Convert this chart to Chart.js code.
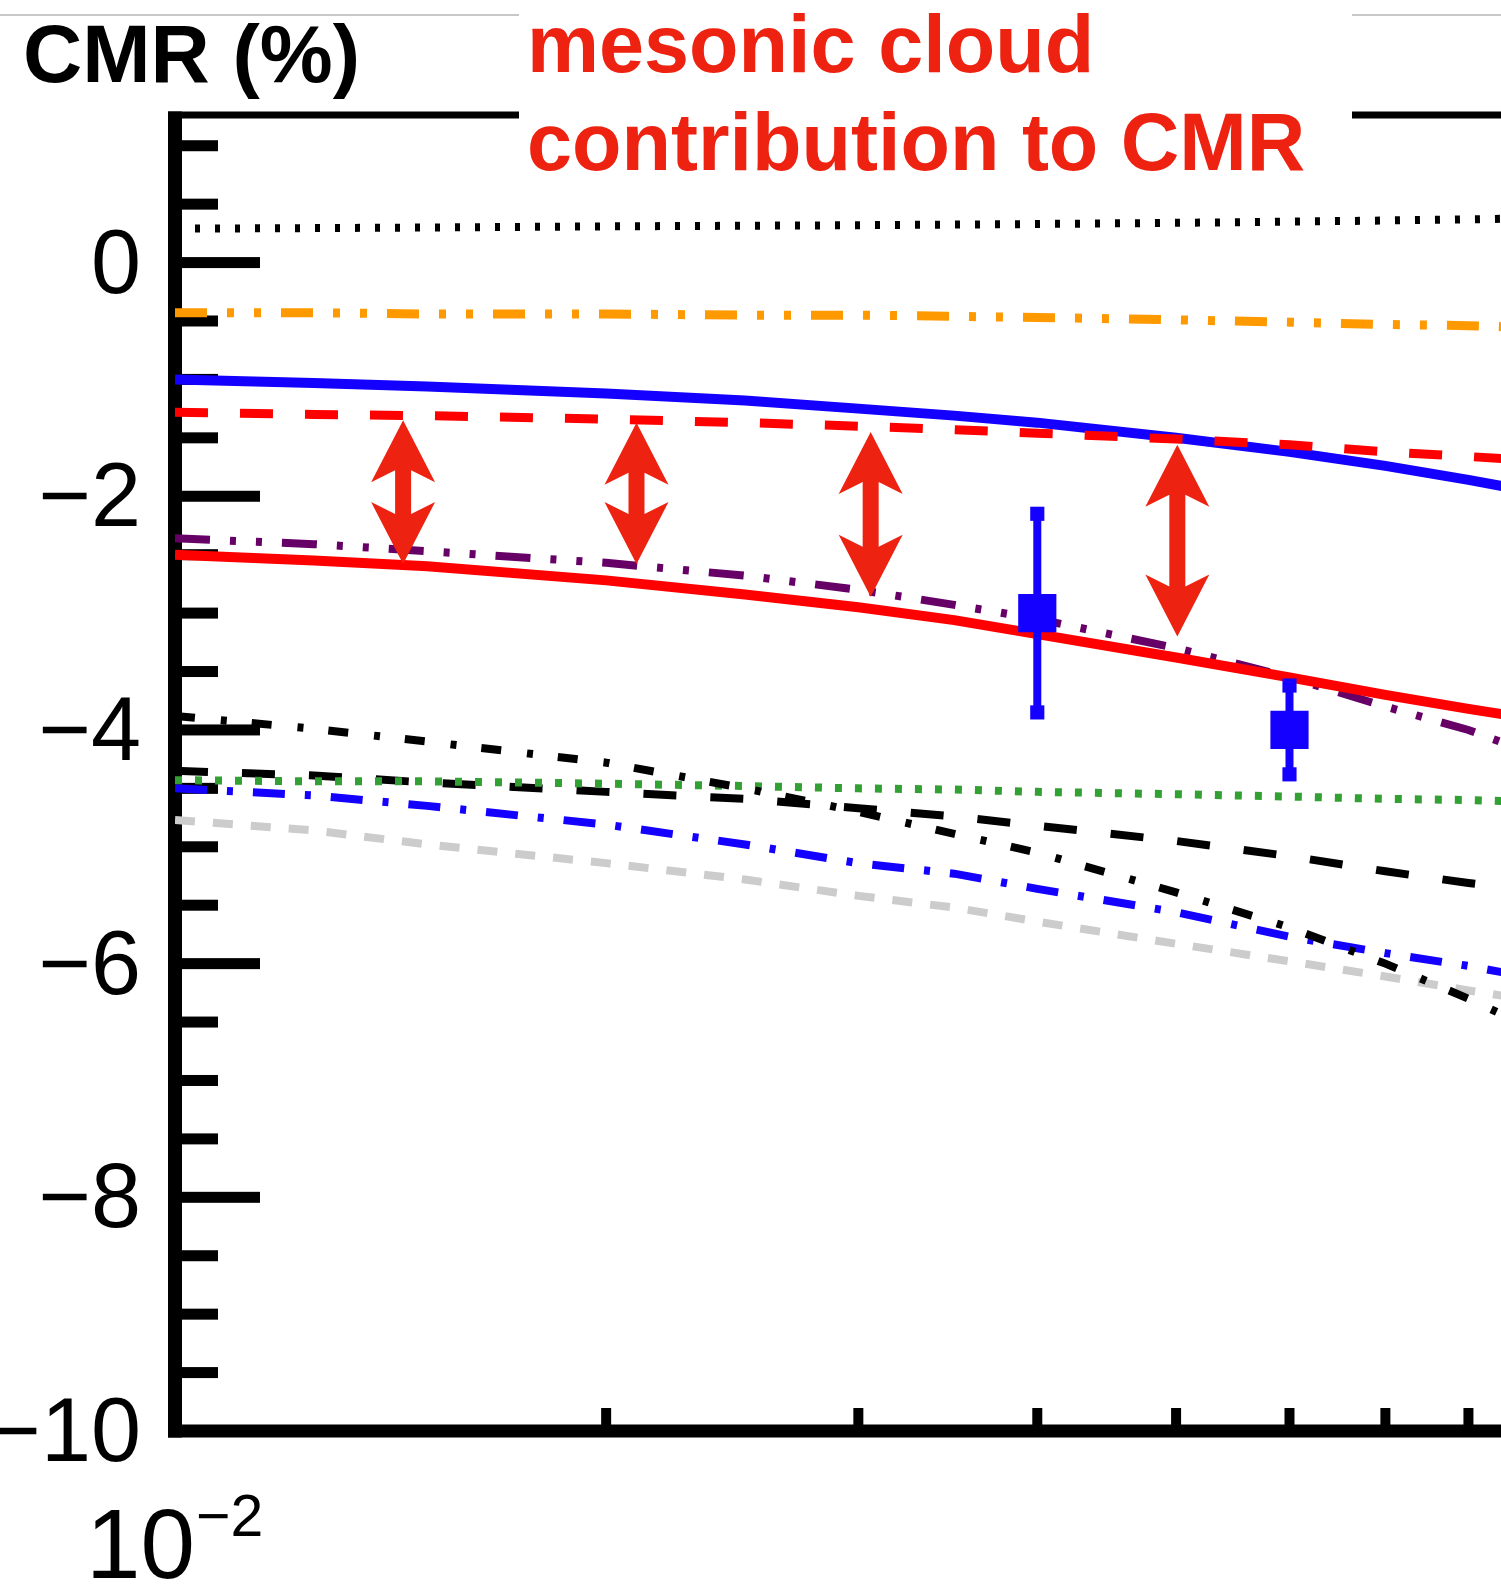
<!DOCTYPE html>
<html>
<head>
<meta charset="utf-8">
<script src="https://cdn.jsdelivr.net/npm/chart.js@4.4.0/dist/chart.umd.min.js"></script>
<style>
  html, body { margin: 0; padding: 0; background: #fff; overflow: hidden; }
  #wrap { width: 1501px; height: 1585px; }
</style>
</head>
<body>
<div id="wrap"><canvas id="c" width="1501" height="1585"></canvas></div>
<script>
// Q^2 sample points (log axis) and CMR (%) curves
const xs = [0.01, 0.0125, 0.015, 0.02, 0.025, 0.03, 0.035, 0.04, 0.05, 0.06, 0.07, 0.08, 0.085];

const blackDotted  = [0.29, 0.295, 0.30, 0.31, 0.315, 0.32, 0.325, 0.33, 0.34, 0.35, 0.36, 0.37, 0.375];
const orangeDDD    = [-0.43, -0.43, -0.44, -0.44, -0.45, -0.45, -0.46, -0.47, -0.49, -0.51, -0.53, -0.54, -0.55];
const blueSolid    = [-1.00, -1.03, -1.06, -1.12, -1.18, -1.25, -1.31, -1.37, -1.50, -1.62, -1.74, -1.86, -1.92];
const redDashed    = [-1.28, -1.30, -1.31, -1.34, -1.37, -1.40, -1.43, -1.46, -1.51, -1.56, -1.62, -1.66, -1.68];
const purpleDDD    = [-2.36, -2.41, -2.47, -2.57, -2.68, -2.80, -2.93, -3.05, -3.30, -3.55, -3.80, -4.00, -4.12];
const redSolid     = [-2.50, -2.55, -2.60, -2.72, -2.84, -2.95, -3.06, -3.18, -3.38, -3.55, -3.70, -3.82, -3.87];
const blackDashDot = [-3.88, -3.99, -4.10, -4.28, -4.50, -4.70, -4.89, -5.05, -5.39, -5.69, -6.00, -6.30, -6.45];
const greenDotted  = [-4.43, -4.44, -4.44, -4.46, -4.48, -4.50, -4.51, -4.53, -4.55, -4.57, -4.59, -4.60, -4.61];
const blackDashed  = [-4.35, -4.39, -4.45, -4.53, -4.59, -4.67, -4.74, -4.82, -4.95, -5.08, -5.21, -5.31, -5.35];
const blueDashDot  = [-4.50, -4.56, -4.65, -4.81, -4.98, -5.14, -5.23, -5.36, -5.56, -5.77, -5.91, -6.02, -6.08];
const grayDashed   = [-4.77, -4.86, -4.98, -5.14, -5.28, -5.42, -5.52, -5.64, -5.83, -5.98, -6.11, -6.23, -6.28];

// data points with error bars
const dataX   = [0.04, 0.06];
const dataY   = [-3.0, -4.0];
const dataErr = [0.85, 0.38];

// red double arrows (mesonic cloud contribution)
const arrowX      = [0.01443, 0.0210, 0.0306, 0.0501];
const arrowTop    = [-1.35, -1.37, -1.45, -1.56];
const arrowBottom = [-2.58, -2.58, -2.86, -3.20];

// axes
const xMin = 0.01, xMax = 0.0843;
const yMin = -10, yMax = 1.263;
const yLabelTicks = [0, -2, -4, -6, -8, -10];
const xMinorTicks = [0.02, 0.03, 0.04, 0.05, 0.06, 0.07, 0.08];

const RED_TXT = '#ee2211';
const BLUE = '#1400ff';
const FONT = '"Liberation Sans", Arial, Helvetica, sans-serif';

const pts = arr => xs.map((x, i) => ({ x, y: arr[i] }));

function curve(arr, color, width, dash, order) {
  return {
    data: pts(arr), showLine: true, borderColor: color, borderWidth: width,
    borderDash: dash, borderCapStyle: 'butt', pointRadius: 0, fill: false,
    tension: 0, order
  };
}

const datasets = [
  curve(grayDashed,   '#cccccc', 8, [20, 18], 12),
  curve(blueDashDot,  BLUE,      8, [32, 20, 6, 20], 11),
  curve(blackDashed,  '#000000', 8, [33, 34], 10),
  curve(greenDotted,  '#33a033', 8, [7, 13], 9),
  curve(blackDashDot, '#000000', 8, [20, 26, 6, 25], 8),
  curve(purpleDDD,    '#660066', 8, [35, 20, 6, 20, 6, 20], 7),
  curve(redSolid,     '#ff0000', 10, [], 6),
  curve(blueSolid,    BLUE,      10, [], 5),
  curve(redDashed,    '#ff0000', 9, [33, 32], 4),
  curve(orangeDDD,    '#ff9900', 9, [32, 20, 7, 20, 7, 20], 3),
  curve(blackDotted,  '#000000', 8, [5, 15], 2)
];

// error bars (one short line per point, square caps)
dataX.forEach((x, i) => {
  datasets.push({
    data: [{ x, y: dataY[i] + dataErr[i] }, { x, y: dataY[i] - dataErr[i] }],
    showLine: true, borderColor: BLUE, borderWidth: 8,
    pointStyle: 'rect', pointRadius: 10, pointBackgroundColor: BLUE,
    pointBorderWidth: 0, order: 1
  });
});
datasets.push({
  data: dataX.map((x, i) => ({ x, y: dataY[i] })),
  showLine: false, pointStyle: 'rect', pointRadius: 27,
  pointBackgroundColor: BLUE, pointBorderWidth: 0, order: 0
});

const frame = {
  id: 'frame',
  beforeDatasetsDraw(chart) {
    const { ctx, chartArea: a, scales: { x, y } } = chart;
    ctx.save();
    // thin grey rule at the very top, broken by the annotation box
    ctx.fillStyle = '#c8c8c8';
    ctx.fillRect(0, 14, 519, 2);
    ctx.fillRect(1352, 14, chart.width - 1352, 2);

    ctx.fillStyle = '#000';
    // top border
    ctx.fillRect(a.left - 7, a.top - 3.5, 519 - a.left + 7, 7);
    ctx.fillRect(1352, a.top - 3.5, chart.width - 1352, 7);
    // left axis
    ctx.fillRect(a.left - 7, a.top - 3.5, 14, a.bottom - a.top + 10);
    // bottom axis
    ctx.fillRect(a.left - 7, a.bottom - 6.5, a.right - a.left + 7, 13);

    // y ticks: long at every 2, short at every 0.5
    for (let v = yMin; v <= yMax; v += 0.5) {
      const py = y.getPixelForValue(v);
      const major = Math.abs(v % 2) < 1e-9;
      ctx.fillRect(a.left - 7, py - 5.5, major ? 92 : 50, 11);
    }
    // x ticks
    xMinorTicks.forEach(v => {
      const px = x.getPixelForValue(v);
      ctx.fillRect(px - 5, a.bottom - 23, 10, 20);
    });

    // y tick labels
    ctx.font = '90px ' + FONT;
    ctx.textAlign = 'right';
    ctx.textBaseline = 'alphabetic';
    yLabelTicks.forEach(v => {
      const py = y.getPixelForValue(v);
      const t = v === 0 ? '0' : '\u2212' + Math.abs(v);
      ctx.fillText(t, 141, py + 30);
    });

    // x label 10^-2 under the first decade
    const px0 = x.getPixelForValue(xMin);
    ctx.textAlign = 'left';
    ctx.font = '98px ' + FONT;
    ctx.fillText('10', px0 - 89, 1578);
    const w10 = ctx.measureText('10').width;
    ctx.font = '59px ' + FONT;
    ctx.fillText('\u22122', px0 - 89 + w10 + 1, 1536);
    ctx.restore();
  },
  afterDatasetsDraw(chart) {
    const { ctx, scales: { x, y } } = chart;
    ctx.save();
    ctx.fillStyle = RED_TXT;
    const hl = 62, hw = 32, nl = 50, sw = 8;
    arrowX.forEach((xv, i) => {
      const px = x.getPixelForValue(xv);
      const y1 = y.getPixelForValue(arrowTop[i]);
      const y2 = y.getPixelForValue(arrowBottom[i]);
      ctx.beginPath();
      ctx.moveTo(px, y1);
      ctx.lineTo(px + hw, y1 + hl);
      ctx.lineTo(px + sw, y1 + nl);
      ctx.lineTo(px + sw, y2 - nl);
      ctx.lineTo(px + hw, y2 - hl);
      ctx.lineTo(px, y2);
      ctx.lineTo(px - hw, y2 - hl);
      ctx.lineTo(px - sw, y2 - nl);
      ctx.lineTo(px - sw, y1 + nl);
      ctx.lineTo(px - hw, y1 + hl);
      ctx.closePath();
      ctx.fill();
    });

    // titles
    ctx.textAlign = 'left';
    ctx.textBaseline = 'alphabetic';
    ctx.font = 'bold 82px ' + FONT;
    ctx.fillStyle = '#000';
    ctx.fillText('CMR (%)', 23, 82);
    ctx.font = 'bold 81px ' + FONT;
    ctx.fillStyle = RED_TXT;
    ctx.fillText('mesonic cloud', 527, 72);
    ctx.fillText('contribution to CMR', 527, 170);
    ctx.restore();
  }
};

new Chart(document.getElementById('c'), {
  type: 'scatter',
  data: { datasets },
  options: {
    responsive: false,
    devicePixelRatio: 1,
    animation: false,
    layout: { autoPadding: false, padding: { left: 175, top: 115, right: 0, bottom: 154 } },
    plugins: { legend: { display: false }, tooltip: { enabled: false } },
    scales: {
      x: { type: 'logarithmic', min: xMin, max: xMax, display: false },
      y: { type: 'linear', min: yMin, max: yMax, display: false }
    }
  },
  plugins: [frame]
});
</script>
</body>
</html>
